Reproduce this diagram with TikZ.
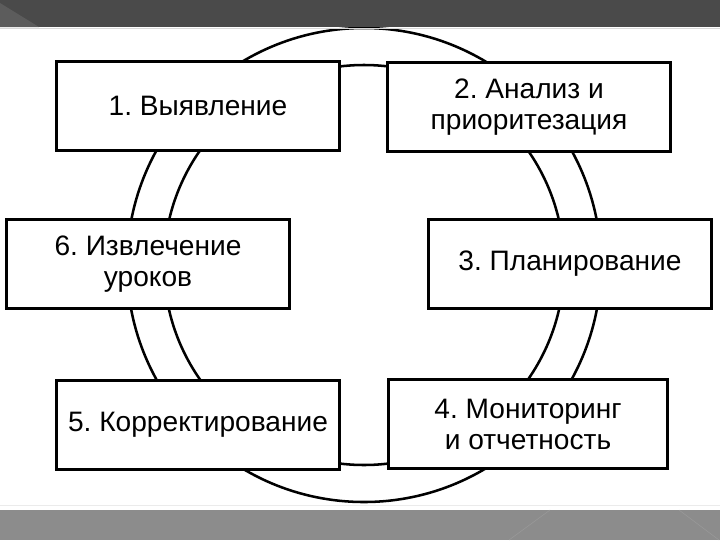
\documentclass[tikz,border=0pt]{standalone}
\usepackage{fontspec}
\setmainfont{Liberation Sans}
\usetikzlibrary{positioning}
\definecolor{bandtop}{HTML}{4A4A4A}
\definecolor{bandcorner}{HTML}{5C5C5C}
\definecolor{bandbot}{HTML}{8C8C8C}
\definecolor{bandline}{HTML}{999999}
\frenchspacing

\begin{document}
\begin{tikzpicture}[
  x=0.025cm, y=-0.025cm,
  font=\fontsize{20}{22}\selectfont,
  stagebox/.style={draw, line width=1.9pt, fill=white, align=center,
               minimum width=7.07cm, minimum height=2.22cm, inner sep=0pt},
  ring/.style={line width=1.8pt},
]
\useasboundingbox (0,0) rectangle (720,540);

% the cycle ring behind the stages
\coordinate (c) at (364,265);
\draw[ring] (c) circle[radius=237];
\draw[ring] (c) circle[radius=200];

\node[stagebox] (s1) at (198,106) {1. Выявление};
\node[stagebox] (s2) at (529,107) {2. Анализ и\\приоритезация};
\node[stagebox] (s3) at (570,264) {3. Планирование};
\node[stagebox, minimum width=6.98cm] (s4) at (528,424) {4. Мониторинг\\и отчетность};
\node[stagebox] (s5) at (198,425) {5. Корректирование};
\node[stagebox] (s6) at (148,264) {6. Извлечение\\уроков};

% slide bands
\fill[bandtop] (0,0) rectangle (720,27);
\fill[bandcorner] (0,3) -- (39,27) -- (0,27) -- cycle;
\draw[black!15] (0,28) -- (720,28);
\draw[black!8] (0,505) -- (720,505);
\fill[bandbot] (0,510) rectangle (720,540);
\draw[bandline] (550,510) -- (509,540);
\draw[bandline] (679,510) -- (719,540);

\end{tikzpicture}
\end{document}
